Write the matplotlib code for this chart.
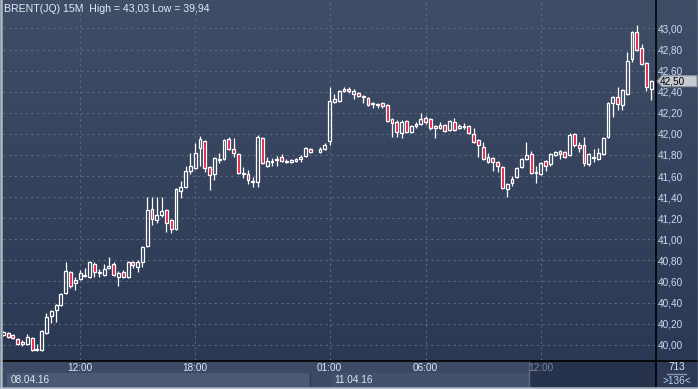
import numpy as np
import matplotlib
matplotlib.use("Agg")
import matplotlib.pyplot as plt
from matplotlib.patches import Rectangle, Polygon
from matplotlib.colors import LinearSegmentedColormap

plt.rcParams["font.family"] = ["Liberation Sans", "DejaVu Sans"]

W, H = 698, 389

# 15-minute candles, BRENT(JQ); None = empty slot (weekend break)
opens = [40.09, 40.11, 40.09, 40.05, 40.03, 40.01, 40.06, 39.95, 39.95, 40.11,
         40.27, 40.33, 40.38, 40.49, 40.69, 40.59, 40.62, 40.65, 40.64, 40.77,
         40.68, 40.66, 40.73, 40.77, 40.64, 40.69, 40.64, 40.78, 40.74, 40.78,
         40.94, 41.29, 41.18, 41.23, 41.28, 41.18, 41.10, 41.46, 41.50, 41.65,
         41.68, 41.87, 41.93, 41.69, 41.62, 41.75, 41.76, 41.95, 41.86, 41.81,
         41.63, 41.62, 41.55, 41.54, 41.96, 41.70, 41.73, 41.75, 41.78, 41.73,
         41.73, 41.74, 41.76, 41.79, 41.86, None, 41.83, 41.86, 41.93, 42.30,
         42.31, 42.41, 42.43, 42.38, 42.39, 42.36, 42.34, 42.29, 42.28, 42.29,
         42.27, 42.14, 42.11, 42.01, 42.12, 42.02, 42.07, 42.09, 42.15, 42.14,
         42.07, 42.06, 42.08, 42.04, 42.11, 42.06, 42.07, 42.07, 42.00, 41.94,
         41.88, 41.73, 41.77, 41.73, 41.69, 41.48, 41.53, 41.59, 41.69, 41.76,
         41.81, 41.64, 41.62, 41.74, 41.71, 41.80, 41.84, 41.83, 41.80, 42.00,
         41.89, 41.89, 41.71, 41.77, 41.76, 41.81, 41.97, 42.29, 42.35, 42.27,
         42.38, 42.71, 42.97, 42.81, 42.67, 42.43]
highs = [40.13, 40.12, 40.10, 40.06, 40.04, 40.10, 40.07, 40.01, 40.14, 40.30,
         40.33, 40.39, 40.49, 40.78, 40.70, 40.64, 40.71, 40.73, 40.79, 40.78,
         40.72, 40.77, 40.83, 40.78, 40.70, 40.71, 40.79, 40.79, 40.80, 40.94,
         41.40, 41.40, 41.40, 41.40, 41.29, 41.19, 41.49, 41.55, 41.70, 41.82,
         41.91, 41.98, 41.94, 41.70, 41.78, 41.82, 41.95, 41.97, 41.96, 41.82,
         41.69, 41.66, 41.59, 41.99, 41.97, 41.78, 41.77, 41.79, 41.81, 41.76,
         41.76, 41.77, 41.80, 41.88, 41.87, None, 41.88, 41.91, 42.44, 42.38,
         42.42, 42.44, 42.44, 42.43, 42.40, 42.37, 42.35, 42.30, 42.29, 42.30,
         42.28, 42.15, 42.13, 42.13, 42.13, 42.08, 42.11, 42.20, 42.17, 42.15,
         42.08, 42.11, 42.09, 42.13, 42.15, 42.09, 42.10, 42.08, 42.06, 41.95,
         41.92, 41.82, 41.78, 41.74, 41.70, 41.53, 41.60, 41.69, 41.77, 41.92,
         41.84, 41.70, 41.73, 41.75, 41.82, 41.84, 41.85, 41.84, 42.01, 42.01,
         41.92, 41.97, 41.82, 41.86, 41.87, 41.97, 42.30, 42.36, 42.44, 42.43,
         42.78, 42.98, 43.03, 42.85, 42.68, 42.51]
lows = [40.08, 40.06, 40.05, 40.00, 39.99, 40.00, 39.94, 39.94, 39.94, 40.10,
        40.21, 40.22, 40.37, 40.48, 40.54, 40.52, 40.61, 40.64, 40.63, 40.64,
        40.64, 40.65, 40.72, 40.65, 40.56, 40.63, 40.63, 40.73, 40.69, 40.74,
        40.93, 41.14, 41.15, 41.21, 41.07, 41.06, 41.09, 41.39, 41.49, 41.62,
        41.67, 41.70, 41.64, 41.47, 41.56, 41.72, 41.75, 41.85, 41.78, 41.62,
        41.58, 41.52, 41.50, 41.50, 41.71, 41.69, 41.70, 41.70, 41.73, 41.72,
        41.72, 41.73, 41.73, 41.78, 41.82, None, 41.82, 41.85, 41.89, 42.29,
        42.30, 42.40, 42.39, 42.33, 42.35, 42.29, 42.26, 42.25, 42.25, 42.25,
        42.11, 41.97, 41.97, 41.96, 42.01, 42.01, 42.06, 42.08, 42.09, 42.04,
        41.96, 42.05, 42.02, 42.03, 42.03, 42.05, 42.05, 42.00, 41.91, 41.78,
        41.75, 41.72, 41.65, 41.64, 41.48, 41.40, 41.51, 41.58, 41.68, 41.75,
        41.62, 41.53, 41.61, 41.65, 41.70, 41.79, 41.76, 41.77, 41.79, 41.88,
        41.83, 41.70, 41.70, 41.73, 41.75, 41.80, 41.96, 42.16, 42.23, 42.23,
        42.37, 42.68, 42.79, 42.65, 42.41, 42.32]
closes = [40.12, 40.07, 40.06, 40.01, 40.01, 40.07, 39.95, 39.96, 40.13, 40.26,
          40.32, 40.38, 40.48, 40.70, 40.56, 40.61, 40.68, 40.66, 40.78, 40.69,
          40.69, 40.72, 40.75, 40.66, 40.68, 40.64, 40.78, 40.76, 40.78, 40.93,
          41.28, 41.19, 41.23, 41.27, 41.15, 41.10, 41.48, 41.50, 41.65, 41.70,
          41.82, 41.95, 41.68, 41.61, 41.77, 41.76, 41.94, 41.86, 41.82, 41.63,
          41.62, 41.56, 41.54, 41.97, 41.72, 41.74, 41.74, 41.76, 41.74, 41.74,
          41.75, 41.76, 41.78, 41.87, 41.83, None, 41.86, 41.89, 42.31, 42.33,
          42.41, 42.43, 42.41, 42.41, 42.36, 42.35, 42.27, 42.28, 42.28, 42.26,
          42.12, 42.10, 42.02, 42.11, 42.02, 42.07, 42.09, 42.14, 42.11, 42.06,
          42.06, 42.08, 42.03, 42.12, 42.04, 42.07, 42.07, 42.01, 41.92, 41.89,
          41.76, 41.78, 41.73, 41.70, 41.49, 41.52, 41.57, 41.68, 41.76, 41.80,
          41.63, 41.63, 41.72, 41.70, 41.81, 41.83, 41.81, 41.78, 41.99, 41.89,
          41.87, 41.72, 41.81, 41.78, 41.82, 41.96, 42.29, 42.35, 42.28, 42.42,
          42.69, 42.97, 42.80, 42.66, 42.44, 42.50]

time_ticks = [16, 40, 68, 88, 112]
time_labels = ["12:00", "18:00", "01:00", "06:00", "12:00"]
date_labels = ["08.04.16", "11.04.16"]
price_ticks = np.round(np.arange(40.0, 43.01, 0.2), 2)
total_bars = 713

o = np.array(opens, dtype=float)
h = np.array(highs, dtype=float)
l = np.array(lows, dtype=float)
c = np.array(closes, dtype=float)
n = len(o)


def fmt(p):
    return f"{p:.2f}".replace(".", ",")


fig = plt.figure(figsize=(W / 100, H / 100), dpi=100)

# background + bottom strip, drawn in pixel coordinates
bg = fig.add_axes([0, 0, 1, 1], zorder=0)
bg.set_xlim(0, W)
bg.set_ylim(H, 0)
bg.axis("off")
cmap = LinearSegmentedColormap.from_list("bg", ["#404d67", "#2a3752"])
bg.imshow(np.linspace(0, 1, 256).reshape(-1, 1), extent=(0, W, H, 0),
          aspect="auto", cmap=cmap, origin="upper")
bg.add_patch(Rectangle((0, 360), 655, 29, color="#3d4a65", lw=0))
bg.add_patch(Rectangle((7, 373), 303, 14, color="#4c5975", lw=0))
bg.add_patch(Rectangle((331, 373), 198, 14, color="#44516c", lw=0))
bg.add_patch(Rectangle((529, 360), 126, 29, color="#27334c", lw=0))
bg.add_patch(Rectangle((655, 360), 43, 29, color="#2e3a55", lw=0))
bg.plot([310, 310], [373, 389], color="#2e3950", lw=1)
bg.plot([529, 529], [360, 389], color="#5c6680", lw=1)
bg.plot([0, W], [360.5, 360.5], color="black", lw=1.2)
bg.plot([655.5, 655.5], [0, H], color="black", lw=1.2)
bg.plot([0.8, 0.8], [0, H], color="#b0b8c4", lw=1.8)
bg.plot([0, W], [388.2, 388.2], color="#b0b8c4", lw=1.8)
bg.plot([W - 0.5, W - 0.5], [0, H], color="#b0b8c4", lw=1)

bg.text(4, 8.5, f"BRENT(JQ) 15M  High = {fmt(np.nanmax(h))} Low = {fmt(np.nanmin(l))}",
        color="#e4ecf7", fontsize=7.6, ha="left", va="center")
bg.text(11, 380, date_labels[0], color="#dde6f3", fontsize=7.2, ha="left", va="center")
bg.text(334, 380, date_labels[1], color="#dde6f3", fontsize=7.2, ha="left", va="center")
bg.text(676.5, 367, str(total_bars), color="#dce7f5", fontsize=7.2, ha="center", va="center")
bg.plot([667, 686], [373.5, 373.5], color="#8a96ac", lw=1)
bg.text(676.5, 381, f">{n}<", color="#bcd2ee", fontsize=7.2, ha="center", va="center")

# price chart
ax = fig.add_axes([3 / W, 29 / H, 652 / W, 358 / H], zorder=1)
ax.patch.set_alpha(0)
ax.set_xlim(-0.06, 135.8)
ax.set_ylim(39.855, 43.251)
for s in ax.spines.values():
    s.set_visible(False)

ax.set_yticks(price_ticks)
ax.set_yticklabels([fmt(p) for p in price_ticks])
ax.set_xticks(time_ticks)
ax.set_xticklabels([])
ax.yaxis.tick_right()
ax.tick_params(axis="both", length=0)
ax.tick_params(axis="y", pad=2, labelsize=7.2, labelcolor="#c9dbf2")
ax.grid(True, color="#5a6882", lw=0.8, ls=(0, (2, 3)))
ax.set_axisbelow(True)

for lab, tx in zip(time_labels, time_ticks):
    col = "#dde6f3" if tx < 110 else "#7d869a"
    ax.text(tx, -0.0225, lab, transform=ax.get_xaxis_transform(),
            color=col, fontsize=7.2, ha="center", va="center", clip_on=False)

bw = 0.6
min_body = 0.011
for i in range(n):
    if np.isnan(o[i]):
        continue
    lo, hi = min(o[i], c[i]), max(o[i], c[i])
    if hi - lo < min_body:
        mid = (hi + lo) / 2
        lo, hi = mid - min_body / 2, mid + min_body / 2
    ax.vlines(i, l[i], lo, color="white", lw=0.9, zorder=3)
    ax.vlines(i, hi, h[i], color="white", lw=0.9, zorder=3)
    face = "#e3173e" if c[i] < o[i] else "none"
    ax.add_patch(Rectangle((i - bw / 2, lo), bw, hi - lo, facecolor=face,
                           edgecolor="white", lw=0.9, zorder=4))

# last price marker on the axis
last = c[-1]
px = lambda x: (x - 3) / 652
dy = 5.5 / 105.4
tag = Polygon([(px(657), last), (px(662), last + dy), (px(697), last + dy),
               (px(697), last - dy), (px(662), last - dy)], closed=True,
              transform=ax.get_yaxis_transform(), clip_on=False,
              facecolor="#c6cad2", edgecolor="#8e949e", lw=0.8, zorder=5)
ax.add_patch(tag)
ax.text(px(659.5), last, fmt(last), transform=ax.get_yaxis_transform(),
        color="black", fontsize=7.2, ha="left", va="center", clip_on=False, zorder=6)

fig.savefig("out.png", dpi=100)
plt.close(fig)
